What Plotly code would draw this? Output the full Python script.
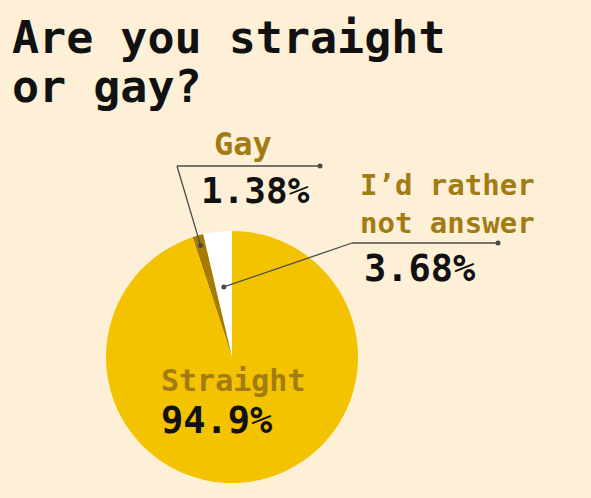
import math
import plotly.graph_objects as go

# ---- data ----
labels = ["I'd rather not answer", "Gay", "Straight"]
values = [3.68, 1.38, 94.9]
pct_text = ["3.68%", "1.38%", "94.9%"]
colors = ["#FFFFFF", "#A67C00", "#F4C300"]

W, H = 591, 498
BG = "#FDF0D7"
LABEL_C = "#A27B12"
FONT = "DejaVu Sans Mono"

# pie geometry (pixels)
cx, cy, R = 232, 357, 126

def px(x):
    return x / W

def py(y):
    return 1 - y / H

total = sum(values)

def slice_point(i, rfrac):
    start = sum(values[:i])
    mid = (start + values[i] / 2) / total * 2 * math.pi
    return cx - rfrac * R * math.sin(mid), cy - rfrac * R * math.cos(mid)

fig = go.Figure(go.Pie(
    labels=labels, values=values, sort=False, direction="counterclockwise",
    rotation=-values[0] / total * 360, marker=dict(colors=colors, line=dict(width=0)),
    textinfo="none", hoverinfo="label+percent", showlegend=False,
    domain=dict(x=[px(cx - R), px(cx + R)], y=[py(cy + R), py(cy - R)]),
))

shapes = []
def line(x0, y0, x1, y1):
    shapes.append(dict(type="line", xref="paper", yref="paper",
                       x0=px(x0), y0=py(y0), x1=px(x1), y1=py(y1),
                       line=dict(color="#4A4A4A", width=1.3)))
def dot(x, y):
    shapes.append(dict(type="circle", xref="paper", yref="paper",
                       xsizemode="pixel", ysizemode="pixel",
                       xanchor=px(x), yanchor=py(y), x0=-2.5, x1=2.5, y0=-2.5, y1=2.5,
                       fillcolor="#4A4A4A", line=dict(width=0)))

# Gay leader
gx, gy = slice_point(1, 0.92)
line(gx, gy, 177, 166)
line(177, 166, 320, 166)
dot(gx, gy)
dot(320, 166)

# Other leader
ox, oy = slice_point(0, 0.56)
line(ox, oy, 352, 243)
line(352, 243, 498, 243)
dot(ox, oy)
dot(498, 243)

ann = []
def text(t, x, y, size, color, anchor="left"):
    ann.append(dict(text=t, x=px(x), y=py(y), xref="paper", yref="paper",
                    xanchor=anchor, yanchor="middle", showarrow=False, align="left",
                    font=dict(family=FONT, size=size, color=color, weight="bold")))

text("Are you straight", 10, 37, 45, "#111111")
text("or gay?", 10, 87, 45, "#111111")
text("Gay", 243, 144, 32, LABEL_C, "center")
text(pct_text[1], 255, 190, 36, "#111111", "center")
text("I’d rather<br>not answer", 358, 204, 29, LABEL_C)
text(pct_text[0], 362, 268, 37, "#111111")
text("Straight", 159, 380, 30, LABEL_C)
text(pct_text[2], 159, 420, 37, "#111111")

fig.update_layout(width=W, height=H, margin=dict(l=0, r=0, t=0, b=0),
                  paper_bgcolor=BG, plot_bgcolor=BG, shapes=shapes, annotations=ann)
fig.write_html("out.html", config={"displayModeBar": False},
               post_script="document.body.style.margin='0';")
